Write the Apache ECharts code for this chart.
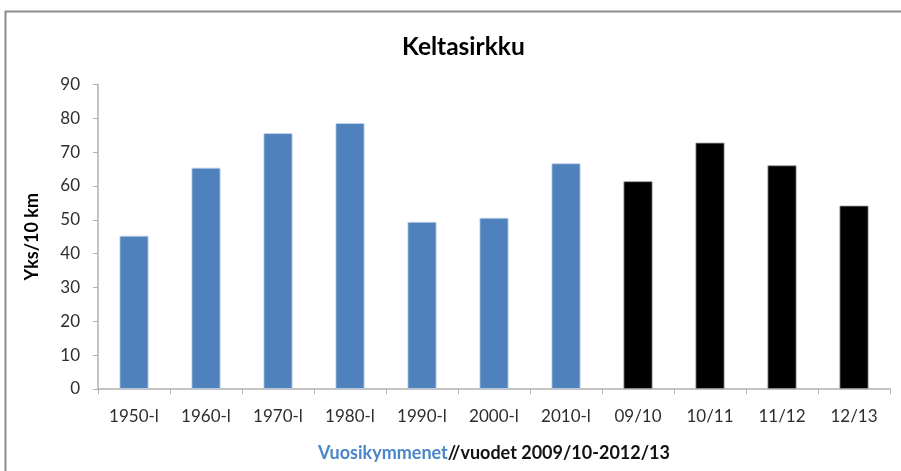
<!DOCTYPE html>
<html>
<head>
<meta charset="utf-8">
<script src="https://cdn.jsdelivr.net/npm/echarts@6/dist/echarts.min.js"></script>
<style>
  html, body { margin: 0; padding: 0; background: #fff; }
  #chart { width: 901px; height: 471px; }
</style>
</head>
<body>
<div id="chart"></div>
<script>
// Keltasirkku (yellowhammer) counts per 10 km of route
const categories = ['1950-l', '1960-l', '1970-l', '1980-l', '1990-l', '2000-l', '2010-l', '09/10', '10/11', '11/12', '12/13'];
// decade averages (blue)
const decadeValues = [45.3, 65.4, 75.6, 78.6, 49.4, 50.6, 66.7, null, null, null, null];
// single winters 2009/10–2012/13 (black)
const yearValues = [null, null, null, null, null, null, null, 61.4, 72.8, 66.1, 54.2];
const yTicks = [0, 10, 20, 30, 40, 50, 60, 70, 80, 90];

const FONT = 'Lato, "Open Sans", sans-serif';
const axisGray = '#b0b0b0';

const chart = echarts.init(document.getElementById('chart'));
chart.setOption({
  animation: false,
  backgroundColor: '#fff',
  title: {
    text: 'Keltasirkku',
    left: 397,
    top: 30,
    textStyle: { fontFamily: FONT, fontSize: 24.5, fontWeight: 'bold', color: '#000' }
  },
  graphic: [
    { type: 'line', shape: { x1: 5, y1: 11.5, x2: 901, y2: 11.5 }, style: { stroke: '#8c8c8c', lineWidth: 2 } },
    { type: 'line', shape: { x1: 5.5, y1: 11, x2: 5.5, y2: 471 }, style: { stroke: '#8c8c8c', lineWidth: 2 } }
  ],
  grid: { left: 98, right: 11, top: 84.5, bottom: 82 },
  xAxis: {
    type: 'category',
    data: categories,
    axisLine: { lineStyle: { color: axisGray, width: 1.5 } },
    axisTick: { show: true, length: 5, lineStyle: { color: axisGray } },
    axisLabel: { fontFamily: FONT, fontSize: 17, color: '#2e2e2e', margin: 19 },
    name: '{b|Vuosikymmenet}{k|//vuodet 2009/10-2012/13}',
    nameLocation: 'middle',
    nameGap: 55,
    nameTextStyle: {
      rich: {
        b: { fontFamily: FONT, fontSize: 18, fontWeight: 'bold', color: '#4a86c8' },
        k: { fontFamily: FONT, fontSize: 18, fontWeight: 'bold', color: '#111' }
      }
    }
  },
  yAxis: {
    type: 'value',
    min: yTicks[0],
    max: yTicks[yTicks.length - 1],
    interval: 10,
    splitLine: { show: false },
    axisLine: { show: true, lineStyle: { color: axisGray, width: 1.5 } },
    axisTick: { show: true, length: 5, lineStyle: { color: axisGray } },
    axisLabel: { fontFamily: FONT, fontSize: 17, color: '#2e2e2e', margin: 18 },
    name: 'Yks/10 km',
    nameLocation: 'middle',
    nameGap: 57,
    nameRotate: 90,
    nameTextStyle: { fontFamily: FONT, fontSize: 18, fontWeight: 'bold', color: '#000' }
  },
  series: [
    {
      type: 'bar',
      stack: 'all',
      data: decadeValues,
      barWidth: 29,
      itemStyle: { color: '#4f81bd', borderColor: '#c6d6ea', borderWidth: 0.8 }
    },
    {
      type: 'bar',
      stack: 'all',
      data: yearValues,
      barWidth: 29,
      itemStyle: { color: '#000', borderColor: '#9a9a9a', borderWidth: 0.8 }
    }
  ]
});
</script>
</body>
</html>
